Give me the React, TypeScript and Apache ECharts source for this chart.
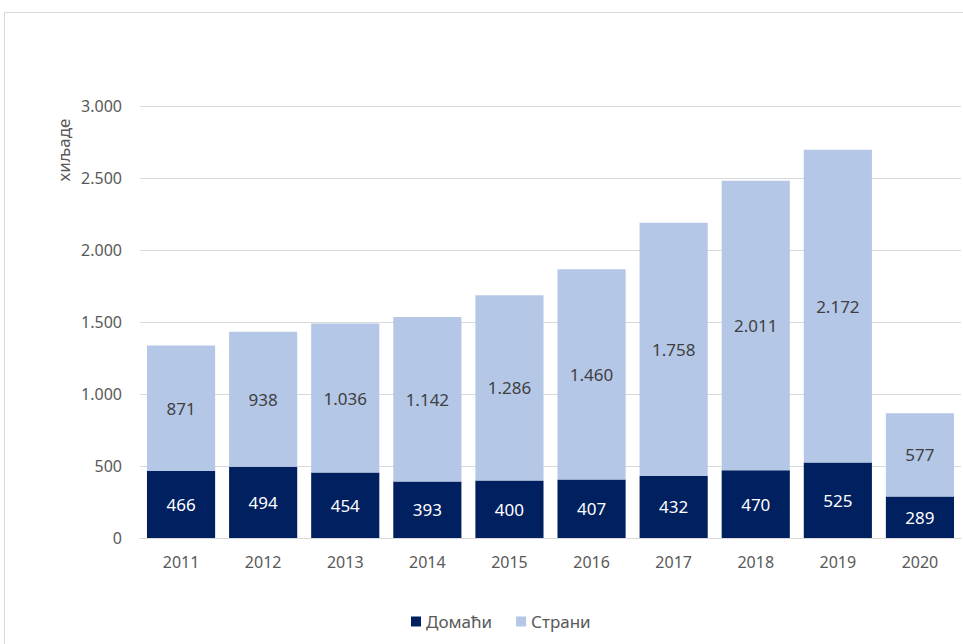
import React, { useEffect, useRef } from "react";
import * as echarts from "echarts";

const years = ["2011", "2012", "2013", "2014", "2015", "2016", "2017", "2018", "2019", "2020"];
const domestic = [466, 494, 454, 393, 400, 407, 432, 470, 525, 289];
const foreign = [871, 938, 1036, 1142, 1286, 1460, 1758, 2011, 2172, 577];
const seriesNames = ["Домаћи", "Страни"];
const axisTitle = "хиљаде";

const fmt = (v: number) => String(v).replace(/\B(?=(\d{3})+(?!\d))/g, ".");
const FONT = "'Noto Sans', sans-serif";

export default function App() {
  const ref = useRef<HTMLDivElement>(null);
  useEffect(() => {
    document.body.style.margin = "0";
    const chart = echarts.init(ref.current!, null, { renderer: "svg" });
    chart.setOption({
      animation: false,
      textStyle: { fontFamily: FONT },
      graphic: [
        {
          type: "rect",
          shape: { x: 4.5, y: 12.5, width: 1000, height: 700 },
          style: { fill: "none", stroke: "#d9d9d9", lineWidth: 1 },
          silent: true,
        },
        {
          type: "text",
          x: 63,
          y: 150,
          rotation: Math.PI / 2,
          style: {
            text: axisTitle,
            fontSize: 17,
            fontFamily: FONT,
            fill: "#595959",
            textAlign: "center",
            textVerticalAlign: "middle",
          },
        },
      ],
      legend: {
        left: 406,
        top: 608,
        icon: "rect",
        itemWidth: 10,
        itemHeight: 10,
        itemGap: 24,
        textStyle: { fontSize: 17, color: "#595959", fontFamily: FONT },
        data: seriesNames,
      },
      grid: { left: 140, right: 2, top: 106, bottom: 106, containLabel: false },
      xAxis: {
        type: "category",
        data: years,
        axisLine: { lineStyle: { color: "#d9d9d9" } },
        axisTick: { show: false },
        axisLabel: { color: "#595959", fontSize: 16, margin: 16, fontFamily: FONT },
      },
      yAxis: {
        type: "value",
        min: 0,
        max: 3000,
        interval: 500,
        axisLine: { show: false },
        axisTick: { show: false },
        splitLine: { lineStyle: { color: "#d9d9d9" } },
        axisLabel: { color: "#595959", fontSize: 16, margin: 18, fontFamily: FONT, formatter: (v: number) => fmt(v) },
      },
      series: [
        {
          name: seriesNames[0],
          type: "bar",
          stack: "t",
          barWidth: "83%",
          data: domestic,
          itemStyle: { color: "#002060" },
          label: {
            show: true,
            position: "inside",
            color: "#ffffff",
            fontSize: 17,
            fontFamily: FONT,
            formatter: (p: any) => fmt(p.value),
          },
        },
        {
          name: seriesNames[1],
          type: "bar",
          stack: "t",
          barWidth: "83%",
          data: foreign,
          itemStyle: { color: "#b4c7e7" },
          label: {
            show: true,
            position: "inside",
            color: "#404040",
            fontSize: 17,
            fontFamily: FONT,
            formatter: (p: any) => fmt(p.value),
          },
        },
      ],
    });
    return () => chart.dispose();
  }, []);
  return <div ref={ref} style={{ width: 963, height: 644 }} />;
}
